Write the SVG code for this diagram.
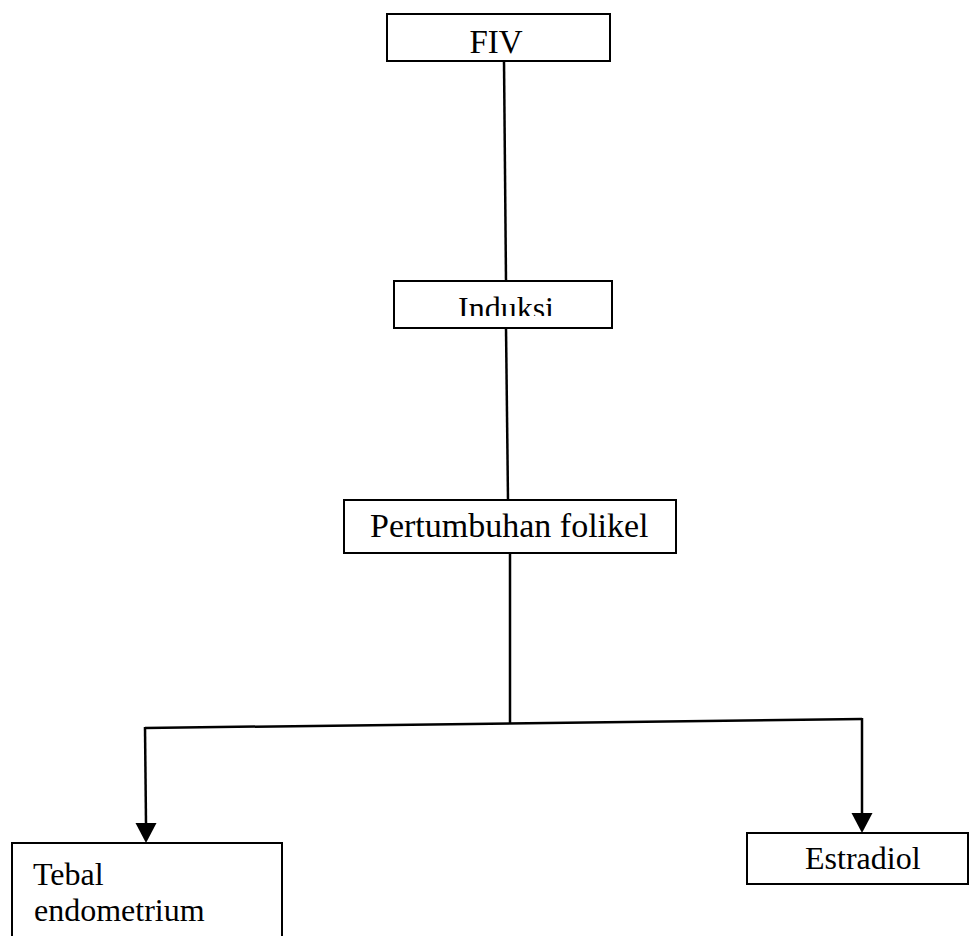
<svg xmlns="http://www.w3.org/2000/svg" width="971" height="936" viewBox="0 0 971 936">
<style>
.box{fill:#fff;stroke:#000;stroke-width:2}
.lbl{font-family:"Liberation Serif","Times New Roman",serif;font-size:32px;fill:#000}
.ln{fill:none;stroke:#000;stroke-width:2.5}
.ah{fill:#000}
</style>
<defs>
<clipPath id="clipInd"><rect x="394" y="281" width="218" height="35"/></clipPath>
</defs>
<rect width="971" height="936" fill="#fff"/>
<g id="connectors">
<path class="ln" d="M504,61 L506,281"/>
<path class="ln" d="M506,328 L508,500"/>
<path class="ln" d="M510,553 L510,723"/>
<path class="ln" d="M145,728 L862,719"/>
<path class="ln" d="M145,727 L146,823"/>
<path class="ah" d="M135.5,823 L156.5,823 L146,843 Z"/>
<path class="ln" d="M862,718 L862,813"/>
<path class="ah" d="M851.5,813 L872.5,813 L862,833 Z"/>
</g>
<g id="node-fiv">
<rect class="box" x="387" y="14" width="223" height="47"/>
<text class="lbl" x="496" y="53" text-anchor="middle" style="font-size:33px">FIV</text>
</g>
<g id="node-induksi">
<rect class="box" x="394" y="281" width="218" height="47"/>
<text class="lbl" x="458" y="319" clip-path="url(#clipInd)">Induksi</text>
</g>
<g id="node-pertumbuhan">
<rect class="box" x="344" y="500" width="332" height="53"/>
<text class="lbl" x="370" y="537" style="font-size:34px">Pertumbuhan folikel</text>
</g>
<g id="node-tebal">
<rect class="box" x="12" y="843" width="270" height="110"/>
<text class="lbl" x="33" y="885">Tebal</text>
<text class="lbl" x="34" y="921">endometrium</text>
</g>
<g id="node-estradiol">
<rect class="box" x="747" y="833" width="221" height="51"/>
<text class="lbl" x="805" y="869">Estradiol</text>
</g>
</svg>
